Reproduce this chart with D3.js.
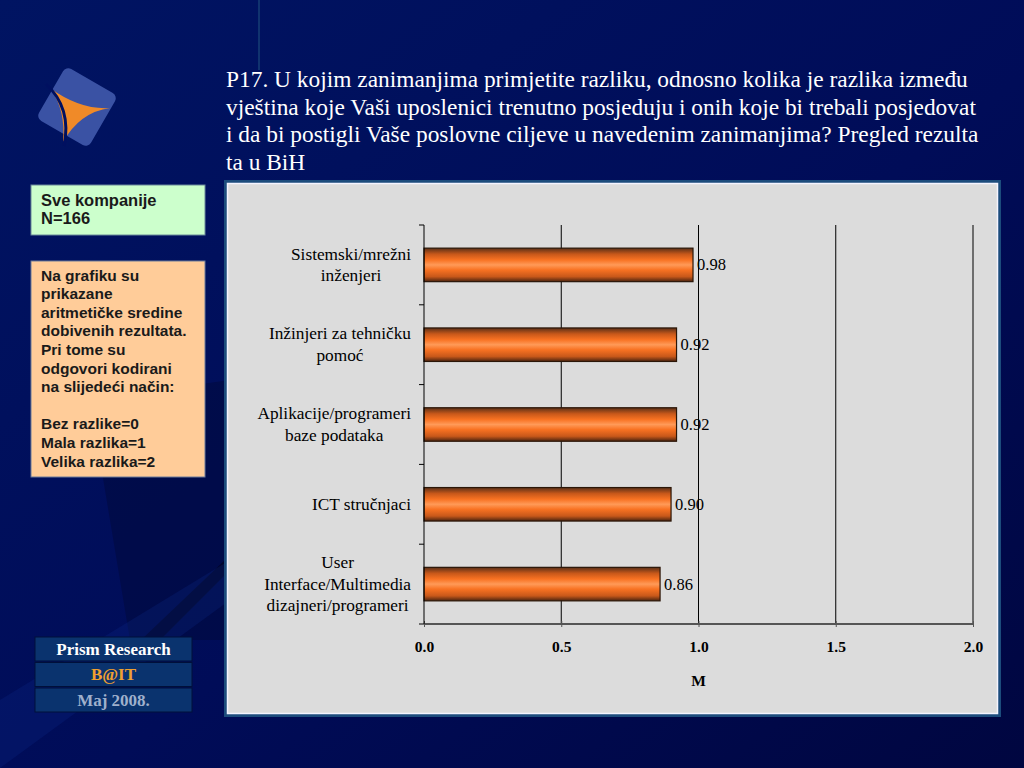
<!DOCTYPE html>
<html>
<head>
<meta charset="utf-8">
<script src="https://cdn.jsdelivr.net/npm/d3@7/dist/d3.min.js"></script>
<style>
  body { margin: 0; background: #000850; }
  svg { display: block; }
</style>
</head>
<body>
<div id="chart"></div>
<script>
// chart data
var categories = [
    ["Sistemski/mrežni", "inženjeri"],
    ["Inžinjeri za tehničku", "pomoć"],
    ["Aplikacije/programeri", "baze podataka"],
    ["ICT stručnjaci"],
    ["User", "Interface/Multimedia", "dizajneri/programeri"]
];
var values = [0.98, 0.92, 0.92, 0.90, 0.86];
var xticks = [0, 0.5, 1.0, 1.5, 2.0];
var xlabel = "M";

var titleLines = [
    "P17. U kojim zanimanjima primjetite razliku, odnosno kolika je razlika između",
    "vještina koje Vaši uposlenici trenutno posjeduju i onih koje bi trebali posjedovat",
    "i da bi postigli Vaše poslovne ciljeve u navedenim zanimanjima? Pregled rezulta",
    "ta u BiH"
];
var sampleLines = ["Sve kompanije", "N=166"];
var noteLines = ["Na grafiku su", "prikazane", "aritmetičke sredine", "dobivenih rezultata.",
    "Pri tome su", "odgovori kodirani", "na slijedeći način:", "",
    "Bez razlike=0", "Mala razlika=1", "Velika razlika=2"];
var footer = [
    {text: "Prism Research", color: "#ffffff"},
    {text: "B@IT", color: "#f0a030"},
    {text: "Maj 2008.", color: "#9fb0cc"}
];

// layout settings
var W = 1024, H = 768;
var plot = {left: 424, right: 973, top: 225, bottom: 624};
var serif = "'Liberation Serif', 'Times New Roman', serif";
var sans = "'Liberation Sans', Arial, sans-serif";

var svg = d3.select("#chart").append("svg")
        .attr("width", W).attr("height", H);
var defs = svg.append("defs");

// background
var bg = defs.append("linearGradient").attr("id", "bg")
        .attr("x1", 0).attr("y1", 0).attr("x2", 1).attr("y2", 1);
bg.append("stop").attr("offset", "0%").attr("stop-color", "#001462");
bg.append("stop").attr("offset", "55%").attr("stop-color", "#000c58");
bg.append("stop").attr("offset", "100%").attr("stop-color", "#000640");
svg.append("rect").attr("width", W).attr("height", H).attr("fill", "url(#bg)");

// faint decorative shapes
svg.append("path").attr("d", "M90,400 L230,380 L230,640 L130,640 Z")
        .attr("fill", "#000a40").attr("opacity", 0.6);
svg.append("path").attr("d", "M120,660 L225,560 L225,575 L135,665 Z")
        .attr("fill", "#000010").attr("opacity", 0.5);
svg.append("rect").attr("x", 258).attr("y", 0).attr("width", 2).attr("height", 70)
        .attr("fill", "#1a4a7a").attr("opacity", 0.6);
svg.append("path").attr("d", "M0,700 L230,560 L230,600 L0,768 Z")
        .attr("fill", "#0a2a8a").attr("opacity", 0.25);

// logo
var logo = svg.append("g").attr("transform", "translate(77,107) rotate(30)");
logo.append("rect").attr("x", -30).attr("y", -30).attr("width", 60).attr("height", 60)
        .attr("rx", 6).attr("fill", "#3a52a4");
svg.append("path")
        .attr("d", "M50,88 Q80,110 110,108 Q80,112 63,142 Q66,110 50,88 Z")
        .attr("fill", "#f08a28");
svg.append("path").attr("d", "M46,84 Q72,108 64,146").attr("fill", "none")
        .attr("stroke", "#001060").attr("stroke-width", 3);

// title
svg.append("g").selectAll("text").data(titleLines).enter().append("text")
        .attr("x", 226).attr("y", function (d, i) { return 87 + i * 27.6; })
        .attr("font-family", serif).attr("font-size", 23.4).attr("fill", "#ffffff")
        .text(function (d) { return d; });

// side boxes
svg.append("rect").attr("x", 31).attr("y", 185).attr("width", 174).attr("height", 50)
        .attr("fill", "#ccffcc").attr("stroke", "#6a8a9a").attr("stroke-width", 1);
svg.append("g").selectAll("text").data(sampleLines).enter().append("text")
        .attr("x", 41).attr("y", function (d, i) { return 206 + i * 18; })
        .attr("font-family", sans).attr("font-weight", "bold").attr("font-size", 16.5)
        .attr("fill", "#1a1a1a").text(function (d) { return d; });

svg.append("rect").attr("x", 31).attr("y", 261).attr("width", 174).attr("height", 216)
        .attr("fill", "#ffcc99").attr("stroke", "#6a7a9a").attr("stroke-width", 1);
svg.append("g").selectAll("text").data(noteLines).enter().append("text")
        .attr("x", 41).attr("y", function (d, i) { return 280.5 + i * 18.6; })
        .attr("font-family", sans).attr("font-weight", "bold").attr("font-size", 15.5)
        .attr("fill", "#1a1a1a").text(function (d) { return d; });

// footer boxes
var fb = svg.append("g").selectAll("g").data(footer).enter().append("g")
        .attr("transform", function (d, i) { return "translate(35," + (637 + i * 25.5) + ")"; });
fb.append("rect").attr("width", 157).attr("height", 24).attr("fill", "#0a336e")
        .attr("stroke", "#00103a").attr("stroke-width", 1);
fb.append("text").attr("x", 78.5).attr("y", 17.5).attr("text-anchor", "middle")
        .attr("font-family", serif).attr("font-weight", "bold").attr("font-size", 17)
        .attr("fill", function (d) { return d.color; }).text(function (d) { return d.text; });

// chart panel
svg.append("rect").attr("x", 224).attr("y", 180).attr("width", 777).attr("height", 537)
        .attr("fill", "#1c4c7c");
svg.append("rect").attr("x", 227.5).attr("y", 183.5).attr("width", 770).attr("height", 530)
        .attr("fill", "#dcdcdc").attr("stroke", "#f4f4ff").attr("stroke-width", 1.5);

// scales
var x = d3.scaleLinear().domain([0, 2]).range([plot.left, plot.right]);
var y = d3.scaleBand().domain(d3.range(values.length))
        .range([plot.top, plot.bottom]).paddingInner(0.58).paddingOuter(0.29);
var step = y.step();

// gridlines
svg.append("g").selectAll("line").data(xticks.slice(1)).enter().append("line")
        .attr("x1", function (d) { return x(d); }).attr("x2", function (d) { return x(d); })
        .attr("y1", plot.top).attr("y2", plot.bottom)
        .attr("stroke", "#000").attr("stroke-width", 1);

// bar gradient
var grad = defs.append("linearGradient").attr("id", "barfill")
        .attr("x1", 0).attr("y1", 0).attr("x2", 0).attr("y2", 1);
[["0%", "#5a3018"], ["18%", "#c8581a"], ["35%", "#f87222"], ["50%", "#ff9a58"],
    ["65%", "#f87222"], ["85%", "#c8581a"], ["100%", "#4a2410"]].forEach(function (s) {
    grad.append("stop").attr("offset", s[0]).attr("stop-color", s[1]);
});

// bars
svg.append("g").selectAll("rect").data(values).enter().append("rect")
        .attr("x", x(0))
        .attr("y", function (d, i) { return y(i); })
        .attr("width", function (d) { return x(d) - x(0); })
        .attr("height", y.bandwidth())
        .attr("fill", "url(#barfill)")
        .attr("stroke", "#2a1608").attr("stroke-width", 1.2);

// value labels
svg.append("g").selectAll("text").data(values).enter().append("text")
        .attr("x", function (d) { return x(d) + 4; })
        .attr("y", function (d, i) { return y(i) + y.bandwidth() / 2 + 5.5; })
        .attr("font-family", serif).attr("font-size", 16.5).attr("fill", "#000")
        .text(function (d) { return d.toFixed(2); });

// x axis
var xaxis = d3.axisBottom(x).tickValues(xticks).tickSize(5)
        .tickFormat(d3.format(".1f"));
var gx = svg.append("g").attr("transform", "translate(0," + plot.bottom + ")").call(xaxis);
gx.select("path.domain").attr("stroke", "#555").attr("stroke-width", 2)
        .attr("d", "M" + plot.left + ",0H" + plot.right);
gx.selectAll(".tick line").attr("stroke", "#555").attr("y1", -3).attr("y2", 3);
gx.selectAll(".tick text").attr("y", 17).attr("font-family", serif)
        .attr("font-weight", "bold").attr("font-size", 15.5).attr("fill", "#000");
svg.append("text").attr("x", x(1)).attr("y", 686).attr("text-anchor", "middle")
        .attr("font-family", serif).attr("font-weight", "bold").attr("font-size", 15.5)
        .text(xlabel);

// y axis line and boundary ticks
svg.append("line").attr("x1", plot.left).attr("x2", plot.left)
        .attr("y1", plot.top).attr("y2", plot.bottom).attr("stroke", "#000");
svg.append("g").selectAll("line").data(d3.range(values.length + 1)).enter().append("line")
        .attr("x1", plot.left - 5).attr("x2", plot.left)
        .attr("y1", function (i) { return plot.top + i * step; })
        .attr("y2", function (i) { return plot.top + i * step; })
        .attr("stroke", "#000");

// category labels, centred block, right edge near axis
var cat = svg.append("g").selectAll("text").data(categories).enter().append("text")
        .attr("font-family", serif).attr("font-size", 17.3).attr("fill", "#000")
        .attr("text-anchor", "middle");
cat.each(function (lines, i) {
    var t = d3.select(this);
    var cy = y(i) + y.bandwidth() / 2;
    var lh = 21.5;
    var y0 = cy - (lines.length - 1) * lh / 2 + 5.5;
    lines.forEach(function (l, k) {
        t.append("tspan").attr("y", y0 + k * lh).text(l);
    });
    var maxW = 0;
    t.selectAll("tspan").each(function () {
        maxW = Math.max(maxW, this.getComputedTextLength());
    });
    t.selectAll("tspan").attr("x", 411 - maxW / 2);
});
</script>
</body>
</html>
